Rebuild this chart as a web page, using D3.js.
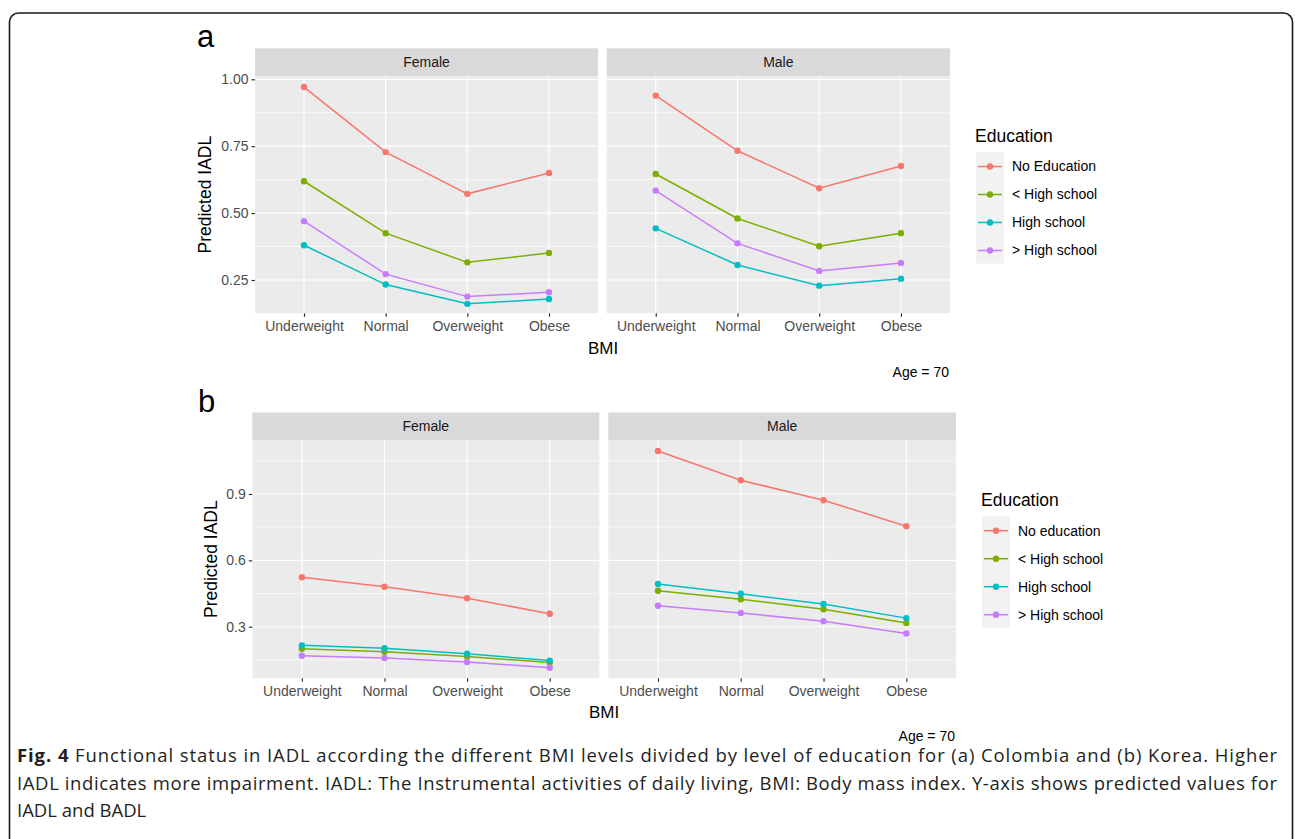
<!DOCTYPE html>
<html>
<head>
<meta charset="utf-8">
<script src="https://cdn.jsdelivr.net/npm/d3@7"></script>
<style>
  body { margin: 0; background: #fff; }
  svg { display: block; }
</style>
</head>
<body>
<script>
// categories
const bmiLevels = ["Underweight", "Normal", "Overweight", "Obese"];
const sexes = ["Female", "Male"];
const eduNamesA = ["No Education", "< High school", "High school", "> High school"];
const eduNamesB = ["No education", "< High school", "High school", "> High school"];
const eduColors = ["#F8766D", "#7CAE00", "#00BFC4", "#C77CFF"];

// panel a (Colombia), one row per education level
const aFemale = [
  [0.971, 0.728, 0.572, 0.650],
  [0.619, 0.425, 0.316, 0.351],
  [0.380, 0.233, 0.161, 0.179],
  [0.470, 0.272, 0.188, 0.204]
];
const aMale = [
  [0.939, 0.733, 0.593, 0.676],
  [0.646, 0.480, 0.376, 0.425],
  [0.443, 0.306, 0.229, 0.255],
  [0.584, 0.387, 0.284, 0.314]
];
// panel b (Korea)
const bFemale = [
  [0.524, 0.481, 0.429, 0.359],
  [0.200, 0.187, 0.165, 0.138],
  [0.216, 0.203, 0.178, 0.147],
  [0.169, 0.159, 0.141, 0.115]
];
const bMale = [
  [1.094, 0.962, 0.872, 0.754],
  [0.463, 0.424, 0.379, 0.317],
  [0.493, 0.449, 0.403, 0.339],
  [0.395, 0.362, 0.325, 0.270]
];

// y ticks
const aTicks = [0.25, 0.50, 0.75, 1.00];
const aMinor = [0.375, 0.625, 0.875];
const bTicks = [0.3, 0.6, 0.9];
const bMinor = [0.15, 0.45, 0.75, 1.05];

const captionLines = [
  "Functional status in IADL according the different BMI levels divided by level of education for (a) Colombia and (b) Korea. Higher",
  "IADL indicates more impairment. IADL: The Instrumental activities of daily living, BMI: Body mass index. Y-axis shows predicted values for",
  "IADL and BADL"
];

const W = 1295, H = 839;
const FONT = "'Liberation Sans', Arial, sans-serif";

const svg = d3.select("body").append("svg")
  .attr("width", W)
  .attr("height", H)
  .style("font-family", FONT);

svg.append("rect").attr("width", W).attr("height", H).attr("fill", "#fff");

// outer frame (bottom edge is cut off in the figure)
svg.append("rect")
  .attr("x", 9.5).attr("y", 13)
  .attr("width", 1283).attr("height", 850)
  .attr("rx", 9)
  .attr("fill", "none")
  .attr("stroke", "#1a1a1a")
  .attr("stroke-width", 1.6);

function drawBlock(cfg) {
  const g = svg.append("g");

  g.append("text")
    .attr("x", cfg.letterX).attr("y", cfg.letterY)
    .attr("font-size", 31)
    .attr("fill", "#000")
    .text(cfg.letter);

  let y;
  cfg.facets.forEach(function(f, fi) {
    const x = d3.scalePoint().domain(bmiLevels).range([f.x0, f.x1]).padding(0.6);
    y = d3.scaleLinear().domain(cfg.yDomain).range([cfg.panelBottom, cfg.stripBottom]);

    // strip
    g.append("rect")
      .attr("x", f.x0).attr("y", cfg.stripTop)
      .attr("width", f.x1 - f.x0).attr("height", cfg.stripBottom - cfg.stripTop)
      .attr("fill", "#d9d9d9");
    g.append("text")
      .attr("x", (f.x0 + f.x1) / 2).attr("y", (cfg.stripTop + cfg.stripBottom) / 2)
      .attr("dy", "0.35em")
      .attr("text-anchor", "middle")
      .attr("font-size", 14)
      .attr("fill", "#1a1a1a")
      .text(sexes[fi]);

    // panel background
    g.append("rect")
      .attr("x", f.x0).attr("y", cfg.stripBottom)
      .attr("width", f.x1 - f.x0).attr("height", cfg.panelBottom - cfg.stripBottom)
      .attr("fill", "#ebebeb");

    // grid
    g.selectAll(null).data(cfg.yMinor).enter().append("line")
      .attr("x1", f.x0).attr("x2", f.x1)
      .attr("y1", d => y(d)).attr("y2", d => y(d))
      .attr("stroke", "#fff").attr("stroke-width", 0.6);
    g.selectAll(null).data(cfg.yTicks).enter().append("line")
      .attr("x1", f.x0).attr("x2", f.x1)
      .attr("y1", d => y(d)).attr("y2", d => y(d))
      .attr("stroke", "#fff").attr("stroke-width", 1.2);
    g.selectAll(null).data(bmiLevels).enter().append("line")
      .attr("x1", d => x(d)).attr("x2", d => x(d))
      .attr("y1", cfg.stripBottom).attr("y2", cfg.panelBottom)
      .attr("stroke", "#fff").attr("stroke-width", 1.2);

    // x axis
    const xa = g.append("g")
      .attr("transform", "translate(0," + cfg.panelBottom + ")")
      .call(d3.axisBottom(x).tickSize(3.5).tickPadding(4));
    xa.select(".domain").remove();
    xa.selectAll(".tick line").attr("stroke", "#333").attr("stroke-width", 1.2);
    xa.selectAll(".tick text")
      .attr("font-size", 14).attr("font-family", FONT).attr("fill", "#4d4d4d");

    // y axis only on the first facet
    if (fi === 0) {
      const ya = g.append("g")
        .attr("transform", "translate(" + f.x0 + ",0)")
        .call(d3.axisLeft(y).tickValues(cfg.yTicks).tickSize(3.5).tickPadding(3)
          .tickFormat(cfg.tickFmt));
      ya.select(".domain").remove();
      ya.selectAll(".tick line").attr("stroke", "#333").attr("stroke-width", 1.2);
      ya.selectAll(".tick text")
        .attr("font-size", 14).attr("font-family", FONT).attr("fill", "#4d4d4d");
    }

    // series
    const line = d3.line()
      .x((d, i) => x(bmiLevels[i]))
      .y(d => y(d));
    f.series.forEach(function(s, si) {
      g.append("path")
        .datum(s)
        .attr("d", line)
        .attr("fill", "none")
        .attr("stroke", eduColors[si])
        .attr("stroke-width", 1.5);
      g.selectAll(null).data(s).enter().append("circle")
        .attr("cx", (d, i) => x(bmiLevels[i]))
        .attr("cy", d => y(d))
        .attr("r", 3.2)
        .attr("fill", eduColors[si]);
    });
  });

  // axis titles
  g.append("text")
    .attr("transform", "translate(" + cfg.yTitleX + "," + (cfg.stripBottom + cfg.panelBottom) / 2 + ") rotate(-90)")
    .attr("text-anchor", "middle")
    .attr("dy", "0.35em")
    .attr("font-size", 17.5)
    .attr("fill", "#000")
    .text("Predicted IADL");
  g.append("text")
    .attr("x", cfg.bmiX).attr("y", cfg.bmiY)
    .attr("text-anchor", "middle")
    .attr("dy", "0.35em")
    .attr("font-size", 17)
    .attr("fill", "#000")
    .text("BMI");
  g.append("text")
    .attr("x", cfg.ageX).attr("y", cfg.ageY)
    .attr("text-anchor", "end")
    .attr("dy", "0.35em")
    .attr("font-size", 14)
    .attr("fill", "#000")
    .text("Age = 70");

  // legend
  const lg = g.append("g");
  lg.append("text")
    .attr("x", cfg.legX).attr("y", cfg.legTitleY)
    .attr("dy", "0.35em")
    .attr("font-size", 17.5)
    .attr("fill", "#000")
    .text("Education");
  const keyW = 28, rowH = 28;
  lg.append("rect")
    .attr("x", cfg.legX + 1).attr("y", cfg.legRow0 - 14.5)
    .attr("width", keyW).attr("height", rowH * 4 - 0.5)
    .attr("fill", "#f2f2f2");
  cfg.names.forEach(function(name, i) {
    const cy = cfg.legRow0 + i * rowH;
    lg.append("line")
      .attr("x1", cfg.legX + 3).attr("x2", cfg.legX + keyW - 1)
      .attr("y1", cy).attr("y2", cy)
      .attr("stroke", eduColors[i]).attr("stroke-width", 1.5);
    lg.append("circle")
      .attr("cx", cfg.legX + 1 + keyW / 2).attr("cy", cy).attr("r", 3.2)
      .attr("fill", eduColors[i]);
    lg.append("text")
      .attr("x", cfg.legX + keyW + 9).attr("y", cy)
      .attr("dy", "0.35em")
      .attr("font-size", 14)
      .attr("fill", "#000")
      .text(name);
  });
}

drawBlock({
  letter: "a", letterX: 197, letterY: 47,
  stripTop: 48.3, stripBottom: 76, panelBottom: 313.3,
  yDomain: [0.1256, 1.0123],
  yTicks: aTicks, yMinor: aMinor,
  tickFmt: d3.format(".2f"),
  facets: [
    { x0: 255, x1: 598, series: aFemale },
    { x0: 606.7, x1: 950, series: aMale }
  ],
  yTitleX: 205, bmiX: 603, bmiY: 348,
  ageX: 949, ageY: 372,
  legX: 975, legTitleY: 136, legRow0: 166.5,
  names: eduNamesA
});

drawBlock({
  letter: "b", letterX: 198, letterY: 412,
  stripTop: 412.5, stripBottom: 440, panelBottom: 678.3,
  yDomain: [0.067, 1.144],
  yTicks: bTicks, yMinor: bMinor,
  tickFmt: d3.format(".1f"),
  facets: [
    { x0: 252.3, x1: 599.3, series: bFemale },
    { x0: 608.3, x1: 956, series: bMale }
  ],
  yTitleX: 211, bmiX: 604, bmiY: 712,
  ageX: 955, ageY: 736.5,
  legX: 981, legTitleY: 500, legRow0: 530.7,
  names: eduNamesB
});

// caption
const cap = svg.append("g")
  .style("font-family", "'Open Sans', 'Noto Sans', sans-serif")
  .attr("font-size", 18.5)
  .attr("fill", "#231f20");
captionLines.forEach(function(t, i) {
  const tx = cap.append("text")
    .attr("x", 17)
    .attr("y", 762 + i * 27.5);
  if (i === 0) {
    tx.append("tspan").attr("font-weight", "bold").text("Fig. 4 ");
  }
  tx.append("tspan").text(t);
  if (i < captionLines.length - 1) {
    tx.attr("textLength", 1260).attr("lengthAdjust", "spacing");
  }
});
</script>
</body>
</html>
